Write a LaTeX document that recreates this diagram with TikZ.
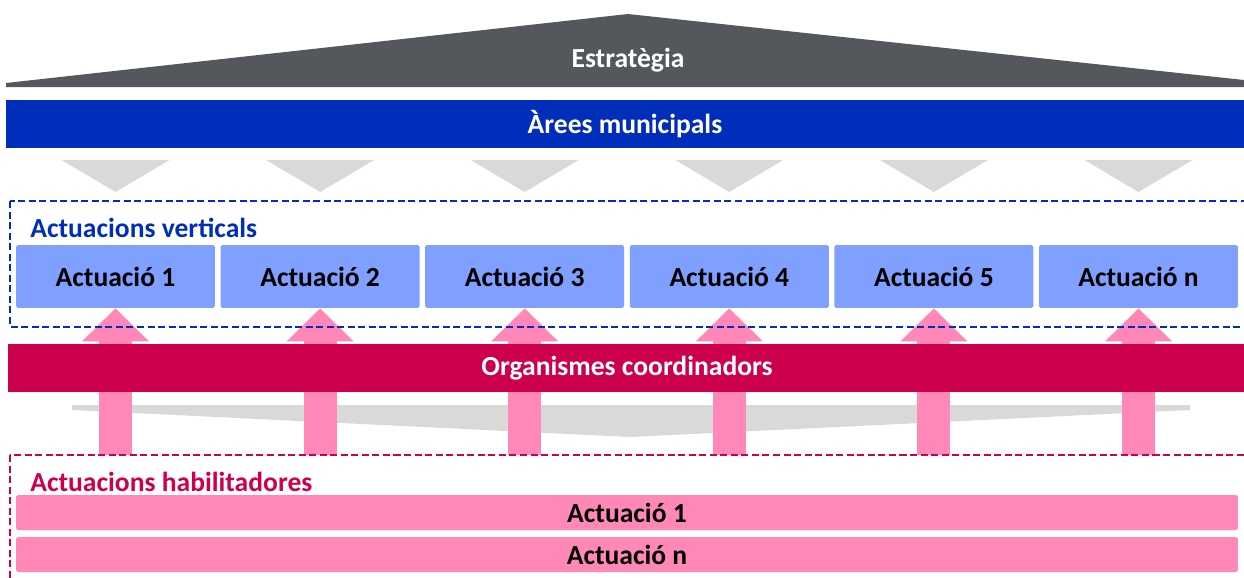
\documentclass[tikz,border=0pt]{standalone}
\usepackage{fontspec}
\setmainfont{Carlito}
\usetikzlibrary{arrows.meta, positioning}
\definecolor{cgrey}{HTML}{54575B}
\definecolor{cblue}{HTML}{002EBB}
\definecolor{clight}{HTML}{80A0FF}
\definecolor{ccrimson}{HTML}{CC004D}
\definecolor{cpink}{HTML}{FF88B8}
\definecolor{cpale}{HTML}{D9D9D9}
\tikzset{
  every picture/.style={font=\fontsize{15.7}{18}\selectfont\bfseries},
  bar/.style={fill=#1, text=white, inner sep=0pt, minimum height=0.96cm, minimum width=24.76cm},
  act/.style={fill=clight, rounded corners=1pt, inner sep=0pt, minimum width=3.98cm, minimum height=1.26cm},
  hab/.style={fill=cpink, rounded corners=1pt, inner sep=0pt, minimum width=24.44cm, minimum height=0.7cm},
  zone/.style={draw=#1, line width=1.1pt, dash pattern=on 4pt off 2pt},
  lift/.style={draw=cpink, line width=0.66cm, -{Triangle[length=0.66cm, width=1.3cm]}},
  tag/.style={text=#1, anchor=west, inner sep=0pt},
}
\begin{document}
\begin{tikzpicture}[x=0.02cm, y=-0.02cm]
  \clip (0,0) rectangle (1244,578);
  % roof and municipal areas
  \fill[cgrey] (6,87) -- (6,83) -- (628,14) -- (1244,80) -- (1244,87) -- cycle;
  \node[text=white] (strat) at (628,60) {Estratègia};
  \node[bar=cblue] (arees) at (625,124) {Àrees municipals};
  % vertical actions
  \foreach \i/\t [evaluate=\i as \x using 115.5+204.6*(\i-1)] in {1/1, 2/2, 3/3, 4/4, 5/5, 6/n} {
    \fill[cpale] (\x-54,160) -- (\x+54,160) -- (\x,192) -- cycle;
    \node[act] (v\i) at (\x,276.5) {Actuació \t};
    \coordinate (b\i) at (\x,455);
  }
  \fill[cpale] (72,405) -- (1190,405) -- (1190,410) -- (630,437) -- (72,410) -- cycle;
  \foreach \i in {1,...,6} \draw[lift] (b\i) -- (v\i.south);
  \node[bar=ccrimson] (org) at (627,368) {Organismes coordinadors};
  \draw[zone=cblue] (10,201) rectangle (1262,327);
  \node[tag=cblue] (vlab) at (30,228) {Actuacions verticals};
  % enabling actions
  \draw[zone=ccrimson] (10,455) rectangle (1262,600);
  \node[tag=ccrimson] (hlab) at (30,482) {Actuacions habilitadores};
  \node[hab] (h1) at (627,512.5) {Actuació 1};
  \node[hab] (hn) at (627,554.5) {Actuació n};
\end{tikzpicture}
\end{document}
